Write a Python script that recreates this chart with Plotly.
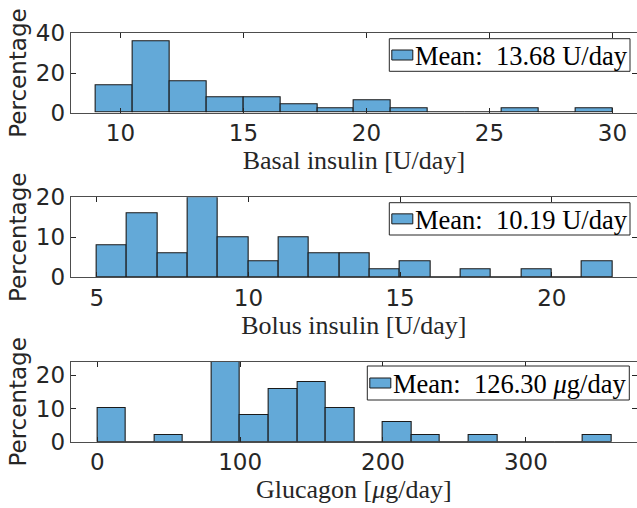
import plotly.graph_objects as go

# ---------------- data (percentages per bin) ----------------
basal_edges = [9, 10.5, 12, 13.5, 15, 16.5, 18, 19.5, 21, 22.5, 24, 25.5, 27, 28.5, 30]
basal_pct = [14, 36, 16, 8, 8, 4, 2, 6, 2, 0, 0, 2, 0, 2]
basal_label = "Mean:  13.68 U/day"

bolus_edges = [5, 6, 7, 8, 9, 10, 11, 12, 13, 14, 15, 16, 17, 18, 19, 20, 21, 22]
bolus_pct = [8, 16, 6, 20, 10, 4, 10, 6, 6, 2, 4, 0, 2, 0, 2, 0, 4]
bolus_label = "Mean:  10.19 U/day"

gluc_edges = [0, 20, 40, 60, 80, 100, 120, 140, 160, 180, 200, 220, 240, 260, 280, 300, 320, 340, 360]
gluc_pct = [10, 0, 2, 0, 24, 8, 16, 18, 10, 0, 6, 2, 0, 2, 0, 0, 0, 2]
gluc_label = "Mean:  126.30 <i>μ</i>g/day"

xtitles = ["Basal insulin [U/day]", "Bolus insulin [U/day]", "Glucagon [<i>μ</i>g/day]"]
xticks = [[10, 15, 20, 25, 30], [5, 10, 15, 20], [0, 100, 200, 300]]
yticks = [[0, 20, 40], [0, 10, 20], [0, 10, 20]]
xranges = [[7.98, 31.0], [4.14, 22.81], [-18.6, 377.8]]
yranges = [[0, 40], [0, 20], [0, 24]]

BAR_COLOR = "#63A9D8"
AX_COLOR = "#262626"
SANS = "DejaVu Sans"
SERIF = "Liberation Serif"

W, H = 637, 508
left_px = 70.7
panels_px = [(33.3, 112.7), (197.3, 277.3), (362.0, 441.7)]
# legend boxes in pixels: (left, top, right, bottom)
legend_boxes = [(389.3, 38.7, 630.0, 71.3), (389.3, 202.7, 630.0, 235.0), (367.3, 366.0, 629.3, 400.0)]

def px_x(v):
    return v / W

def px_y(v):
    return 1 - v / H

fig = go.Figure()
datasets = [(basal_edges, basal_pct, basal_label),
            (bolus_edges, bolus_pct, bolus_label),
            (gluc_edges, gluc_pct, gluc_label)]

shapes = []
annotations = []
for i, (edges, pct, label) in enumerate(datasets):
    centers = [(a + b) / 2 for a, b in zip(edges[:-1], edges[1:])]
    widths = [b - a for a, b in zip(edges[:-1], edges[1:])]
    sfx = "" if i == 0 else str(i + 1)
    fig.add_trace(go.Bar(
        x=centers, y=pct, width=widths,
        marker=dict(color=BAR_COLOR, line=dict(color="#1a1a1a", width=1.1)),
        name=label, showlegend=False,
        xaxis="x" + sfx, yaxis="y" + sfx,
    ))
    # legend box drawn as box + swatch + text
    l, t, r, b = legend_boxes[i]
    shapes.append(dict(type="rect", xref="paper", yref="paper",
                       x0=px_x(l), x1=px_x(r), y0=px_y(b), y1=px_y(t),
                       fillcolor="white", line=dict(color=AX_COLOR, width=1), layer="above"))
    mid = (t + b) / 2
    shapes.append(dict(type="rect", xref="paper", yref="paper",
                       x0=px_x(l + 2.5), x1=px_x(l + 23.5), y0=px_y(mid + 5), y1=px_y(mid - 5),
                       fillcolor=BAR_COLOR, line=dict(color="#1a1a1a", width=1), layer="above"))
    annotations.append(dict(xref="paper", yref="paper", x=px_x(l + 24), y=px_y(mid + 1),
                            xanchor="left", yanchor="middle", showarrow=False,
                            text=label, font=dict(family=SERIF, size=26.5, color="black")))

layout = dict(
    width=W, height=H,
    margin=dict(l=0, r=0, t=0, b=0),
    paper_bgcolor="white", plot_bgcolor="white",
    bargap=0, shapes=shapes, annotations=annotations,
)

for i in range(3):
    sfx = "" if i == 0 else str(i + 1)
    top, bot = panels_px[i]
    xa = dict(
        domain=[left_px / W, 1.0], range=xranges[i],
        tickmode="array", tickvals=xticks[i],
        ticks="inside", ticklen=5, tickwidth=1, tickcolor=AX_COLOR,
        showline=True, linecolor="#4d4d4d", linewidth=1, mirror="allticks",
        showgrid=False, zeroline=False,
        tickfont=dict(family=SANS, size=23, color=AX_COLOR),
        title=dict(text=xtitles[i], font=dict(family=SERIF, size=26, color=AX_COLOR), standoff=3),
        anchor="y" + sfx, automargin=False,
    )
    ya = dict(
        domain=[1 - bot / H, 1 - top / H], range=yranges[i],
        tickmode="array", tickvals=yticks[i],
        ticks="inside", ticklen=5, tickwidth=1, tickcolor=AX_COLOR,
        showline=True, linecolor="#4d4d4d", linewidth=1, mirror="allticks",
        showgrid=False, zeroline=False,
        tickfont=dict(family=SANS, size=23, color=AX_COLOR),
        title=dict(text="Percentage", font=dict(family=SANS, size=23, color=AX_COLOR), standoff=2),
        anchor="x" + sfx, automargin=False,
    )
    layout["xaxis" + sfx] = xa
    layout["yaxis" + sfx] = ya

fig.update_layout(**layout)
fig.write_html("out.html")
